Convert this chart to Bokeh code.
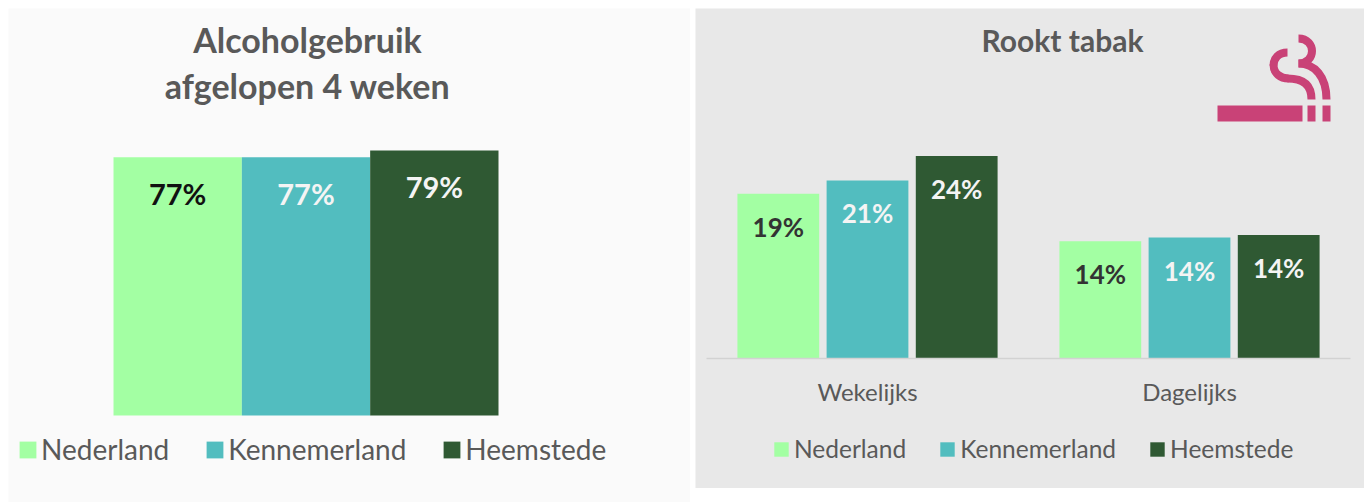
from bokeh.embed import file_html
from bokeh.resources import INLINE
from bokeh.plotting import figure
from bokeh.layouts import row
from bokeh.models import Range1d, Legend, LegendItem, Label, ColumnDataSource, FixedTicker
from bokeh.core.properties import value
from bokeh.transform import dodge

series = ["Nederland", "Kennemerland", "Heemstede"]
colors = ["#A3FFA3", "#52BDBF", "#2F5933"]

alcohol_values = [77, 77, 79]
alcohol_labels = ["77%", "77%", "79%"]
alcohol_label_colors = ["#111111", "#F4F4F4", "#F4F4F4"]

smoke_categories = ["Wekelijks", "Dagelijks"]
smoke_values = {
    "Nederland": [19.6, 13.95],
    "Kennemerland": [21.2, 14.4],
    "Heemstede": [24.1, 14.7],
}
smoke_labels = {
    "Nederland": ["19%", "14%"],
    "Kennemerland": ["21%", "14%"],
    "Heemstede": ["24%", "14%"],
}
smoke_label_colors = {"Nederland": "#333333", "Kennemerland": "#F4F4F4", "Heemstede": "#F4F4F4"}

FONT = "Lato"
GREY = "#595959"
PINK = "#C94277"

# ---------- left panel: page pixels of the panel and of the bars' area ----------
L_X0, L_X1, L_Y0, L_Y1 = 8, 690, 8, 502
f_l, f_r, f_b = 113, 498, 415
ppu_x1 = (f_r - f_l) / len(series)
ppu_y1 = 3.354
idx1 = list(range(len(series)))
p1 = figure(width=L_X1 - L_X0, height=L_Y1 - L_Y0, output_backend="svg", toolbar_location=None,
            x_range=Range1d(-0.5 - (f_l - L_X0) / ppu_x1, len(series) - 0.5 + (L_X1 - f_r) / ppu_x1),
            y_range=Range1d(-(L_Y1 - f_b) / ppu_y1, (f_b - L_Y0) / ppu_y1),
            x_axis_location=None, y_axis_location=None,
            min_border=0,
            background_fill_color="#FAFAFA", border_fill_color="#FAFAFA", outline_line_color=None)
p1.grid.visible = False
p1.extra_x_ranges = {"px": Range1d(L_X0, L_X1)}
p1.extra_y_ranges = {"px": Range1d(L_Y1, L_Y0)}

items = []
for i, s, c, v in zip(idx1, series, colors, alcohol_values):
    r = p1.vbar(x=[i], top=[v], width=1, color=c, line_color=None)
    items.append(LegendItem(label=s, renderers=[r]))
p1.text(x=idx1, y=alcohol_values, text=alcohol_labels, text_color=alcohol_label_colors,
        text_font=value(FONT), text_font_style="bold", text_font_size="29px",
        text_align="center", text_baseline="middle", y_offset=36)
for txt, y in [("Alcoholgebruik", 39), ("afgelopen 4 weken", 85)]:
    p1.add_layout(Label(x=307, y=y, text=txt, x_range_name="px", y_range_name="px",
                        text_font=FONT, text_font_style="bold", text_font_size="34px",
                        text_color=GREY, text_align="center", text_baseline="middle"))
leg1 = Legend(items=items, orientation="horizontal", location=(17 - L_X0, L_Y1 - 466),
              glyph_width=21, glyph_height=21, label_standoff=3, spacing=35, padding=0, margin=0,
              label_text_font=FONT, label_text_font_size="28px", label_text_color=GREY,
              background_fill_alpha=0, border_line_color=None)
p1.add_layout(leg1, "center")

# ---------- right panel ----------
R_X0, R_X1, R_Y0, R_Y1 = 695, 1364, 8, 488
g_l, g_r, g_b = 706, 1350, 358
ppu_x2 = (g_r - g_l) / len(smoke_categories)
ppu_y2 = 8.4
idx2 = list(range(len(smoke_categories)))
p2 = figure(width=R_X1 - R_X0, height=R_Y1 - R_Y0, output_backend="svg", toolbar_location=None,
            x_range=Range1d(-0.5 - (g_l - R_X0) / ppu_x2, len(idx2) - 0.5 + (R_X1 - g_r) / ppu_x2),
            y_range=Range1d(-(R_Y1 - g_b) / ppu_y2, (g_b - R_Y0) / ppu_y2),
            y_axis_location=None, min_border=0,
            background_fill_color="#E8E8E8", border_fill_color="#E8E8E8", outline_line_color=None)
p2.grid.visible = False
p2.extra_x_ranges = {"px": Range1d(R_X0, R_X1)}
p2.extra_y_ranges = {"px": Range1d(R_Y1, R_Y0)}
ax = p2.xaxis[0]
ax.fixed_location = 0
ax.bounds = (-0.5, len(idx2) - 0.5)
ax.ticker = FixedTicker(ticks=idx2)
ax.major_label_overrides = dict(zip(idx2, smoke_categories))
ax.axis_line_color = "#D2D2D2"
ax.axis_line_width = 1.5
ax.major_tick_line_color = None
ax.minor_tick_line_color = None
ax.major_label_text_font = FONT
ax.major_label_text_font_size = "24px"
ax.major_label_text_color = GREY
ax.major_label_standoff = 12

items2 = []
for s, c, off in zip(series, colors, [-0.277, 0, 0.277]):
    src = ColumnDataSource(dict(cat=idx2, top=smoke_values[s], label=smoke_labels[s]))
    r = p2.vbar(x=dodge("cat", off), top="top", width=0.254, source=src, color=c, line_color=None)
    items2.append(LegendItem(label=s, renderers=[r]))
    p2.text(x=dodge("cat", off), y="top", text="label", source=src,
            text_color=smoke_label_colors[s], text_font=value(FONT), text_font_style="bold",
            text_font_size="26px", text_align="center", text_baseline="middle", y_offset=33)

p2.add_layout(Label(x=1062, y=39, text="Rookt tabak", x_range_name="px", y_range_name="px",
                    text_font=FONT, text_font_style="bold", text_font_size="30px",
                    text_color=GREY, text_align="center", text_baseline="middle"))

# cigarette icon
for x0, x1 in [(1217, 1302), (1307, 1315), (1322, 1330)]:
    p2.quad(left=[x0], right=[x1], top=[105], bottom=[121], color=PINK, line_color=None,
            x_range_name="px", y_range_name="px")
smoke_curves = [
    (1287, 52, 1273, 65, 1278, 52, 1273, 58),
    (1273, 64, 1288, 78, 1273, 73, 1280, 78),
    (1287, 78, 1311, 99, 1302, 78, 1311, 84),
    (1298, 38, 1298, 63, 1316, 38, 1316, 63),
    (1298, 63, 1326, 99, 1314, 63, 1326, 76),
]
for x0, y0, x1, y1, cx0, cy0, cx1, cy1 in smoke_curves:
    p2.bezier(x0=[x0], y0=[y0], x1=[x1], y1=[y1], cx0=[cx0], cy0=[cy0], cx1=[cx1], cy1=[cy1],
              line_color=PINK, line_width=8, x_range_name="px", y_range_name="px")

leg2 = Legend(items=items2, orientation="horizontal", location=(772 - R_X0, R_Y1 - 463),
              glyph_width=18, glyph_height=18, label_standoff=4, spacing=32, padding=0, margin=0,
              label_text_font=FONT, label_text_font_size="24.5px", label_text_color=GREY,
              background_fill_alpha=0, border_line_color=None)
p2.add_layout(leg2, "center")

layout = row(p1, p2, spacing=5, margin=(8, 0, 0, 8))
open("out.html", "w").write(file_html(layout, INLINE))
